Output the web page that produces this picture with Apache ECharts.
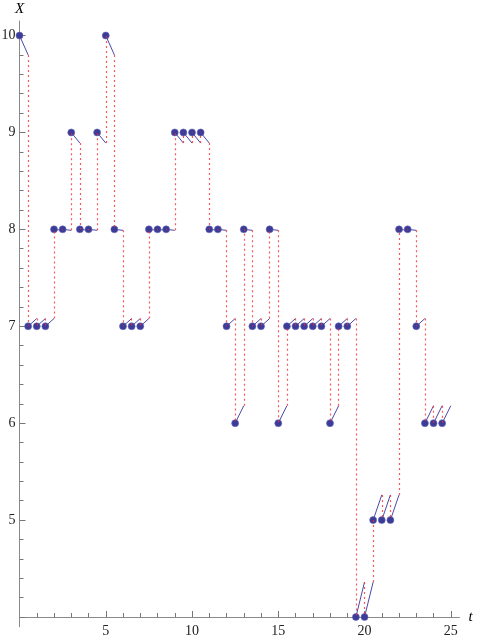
<!DOCTYPE html>
<html><head><meta charset="utf-8">
<script src="https://cdn.jsdelivr.net/npm/echarts@6/dist/echarts.min.js"></script>
<style>html,body{margin:0;padding:0;background:#fff}#c{width:480px;height:640px}</style>
</head><body><div id="c"></div>
<script>
// time of each jump point
const times = [0,0.5,1,1.5,2,2.5,3,3.5,4,4.5,5,5.5,6,6.5,7,7.5,8,8.5,9,9.5,10,10.5,11,11.5,12,12.5,13,13.5,14,14.5,15,15.5,16,16.5,17,17.5,18,18.5,19,19.5,20,20.5,21,21.5,22,22.5,23,23.5,24,24.5];
// state X at each time
const states = [10,7,7,7,8,8,9,8,8,9,10,8,7,7,7,8,8,8,9,9,9,9,8,8,7,6,8,7,7,8,6,7,7,7,7,7,6,7,7,4,4,5,5,5,8,8,7,6,6,6];
// drift change over one step, read per level
const driftLevels = [4,5,6,7,8,9,10];
const driftChange = [0.36,0.26,0.18,0.08,-0.01,-0.11,-0.20];
const stepLen = 0.5;
// ticks and tick labels
const xMajorTicks = [5,10,15,20,25];
const xLabelTicks = [5,10,15,20,25];
const yMajorTicks = [4,5,6,7,8,9,10];
const yLabelTicks = [5,6,7,8,9,10];

const xMin=0, xMax=25.5, yMin=3.9, yMax=10.15, xAxisAt=4;
const W=480, H=640;
const gTop=21, gBottom=13.3, gLeft=19.5, gRight=20.6;
const gH=H-gTop-gBottom;
const xAxisOffset = -(xAxisAt-yMin)*gH/(yMax-yMin);

function drift(v){ return driftChange[driftLevels.indexOf(v)]; }
const points = times.map((t,i)=>[t,states[i]]);
const segs = times.map((t,i)=>({coords:[[t,states[i]],[t+stepLen,states[i]+drift(states[i])]]}));
const jumps = [];
for(let i=0;i<times.length-1;i++){
  jumps.push({coords:[[times[i+1],states[i]+drift(states[i])],[times[i+1],states[i+1]]]});
}

const serif = "'Liberation Serif','Times New Roman',serif";
const axisGray = '#8a8a8a';
const tickGray = '#777777';
const chart = echarts.init(document.getElementById('c'), null, {renderer:'canvas'});
chart.setOption({
  animation:false,
  backgroundColor:'#fff',
  grid:{left:gLeft,right:gRight,top:gTop,bottom:gBottom,containLabel:false,outerBoundsMode:'none'},
  xAxis:{type:'value',min:xMin,max:xMax,offset:xAxisOffset,position:'bottom',
    name:'t',nameLocation:'end',nameGap:9,
    nameTextStyle:{fontFamily:serif,fontStyle:'italic',fontSize:15,color:'#000'},
    axisLine:{show:true,onZero:false,lineStyle:{color:axisGray,width:1}},
    axisTick:{show:true,inside:true,length:6,customValues:xMajorTicks,lineStyle:{color:tickGray,width:1}},
    minorTick:{show:true,splitNumber:5,length:4,lineStyle:{color:tickGray,width:1}},
    axisLabel:{show:true,customValues:xLabelTicks,margin:7,fontFamily:serif,fontSize:14,color:'#222'},
    splitLine:{show:false},minorSplitLine:{show:false}},
  yAxis:{type:'value',min:yMin,max:yMax,position:'left',
    name:'X',nameLocation:'end',nameGap:4,
    nameTextStyle:{fontFamily:serif,fontStyle:'italic',fontSize:15,color:'#000',align:'center'},
    axisLine:{show:true,onZero:false,lineStyle:{color:axisGray,width:1}},
    axisTick:{show:true,inside:true,length:6,customValues:yMajorTicks,lineStyle:{color:tickGray,width:1}},
    minorTick:{show:true,splitNumber:5,length:4,lineStyle:{color:tickGray,width:1}},
    axisLabel:{show:true,customValues:yLabelTicks,margin:4,fontFamily:serif,fontSize:14,color:'#222'},
    splitLine:{show:false},minorSplitLine:{show:false}},
  series:[
    {type:'lines',coordinateSystem:'cartesian2d',polyline:false,data:segs,silent:true,z:2,
      lineStyle:{color:'#4a4aa8',width:1,opacity:1}},
    {type:'scatter',data:points,symbol:'circle',symbolSize:7,z:3,clip:false,
      itemStyle:{color:'#3b3b98',opacity:1,borderColor:'#6a6ab8',borderWidth:0.6}},
    {type:'lines',coordinateSystem:'cartesian2d',polyline:false,data:jumps,silent:true,z:4,
      lineStyle:{color:'#ff2a2a',width:1.2,opacity:0.8,type:[2,3]}}
  ]
});
</script></body></html>
